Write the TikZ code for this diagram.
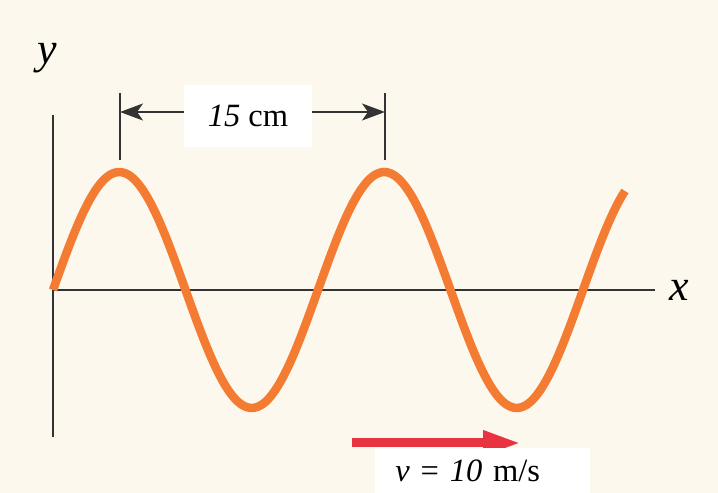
\documentclass[tikz,border=0pt]{standalone}
\usepackage{fontspec}
\setmainfont{Liberation Serif}
\usetikzlibrary{arrows.meta, positioning}
\definecolor{paper}{RGB}{252,248,237}
\definecolor{wave}{RGB}{244,123,50}
\definecolor{ink}{RGB}{51,51,51}
\definecolor{speed}{RGB}{232,52,64}

\begin{document}
\begin{tikzpicture}[
    x=0.02cm, y=-0.02cm,
    axis/.style={draw=ink, line width=1.1pt},
    dimline/.style={{Stealth[length=0.46cm, width=0.34cm, inset=0.12cm]}-{Stealth[length=0.46cm, width=0.34cm, inset=0.12cm]}, draw=ink, line width=1.1pt},
    axlabel/.style={font=\fontsize{25}{25}\selectfont\itshape, inner sep=0pt},
    tag/.style={fill=white, inner sep=0pt, font=\fontsize{18.5}{20}\selectfont},
    speedarrow/.style={-{Triangle[length=0.76cm, width=0.46cm]}, draw=speed, line width=0.18cm},
]

\fill[paper] (0,0) rectangle (718,493);
\useasboundingbox (0,0) rectangle (718,493);

\coordinate (o) at (53,290);
\coordinate (ytop) at (53,115);
\coordinate (ybot) at (53,437);
\coordinate (xend) at (655,290);

\draw[axis] (ybot) -- (ytop);
\draw[axis] (o) -- (xend);
\node[axlabel] (ylab) at (47,58) {y};
\node[axlabel, right=8pt of xend] (xlab) {x};

\draw[wave, line width=0.17cm] plot[domain=0:572, samples=160, smooth] ({53+\x}, {290-118*sin(\x/265*360)});

\coordinate (p1top) at (120,93);
\coordinate (p1bot) at (120,160);
\coordinate (p2top) at (385,93);
\coordinate (p2bot) at (385,160);
\coordinate (d1) at (120,112);
\coordinate (d2) at (385,112);

\draw[axis] (p1top) -- (p1bot);
\draw[axis] (p2top) -- (p2bot);
\draw[dimline] (d1) -- (d2);
\node[tag, minimum width=2.58cm, minimum height=1.26cm] (lambda) at (248,116) {\textit{15} cm};

\coordinate (v1) at (352,443);
\coordinate (v2) at (521,443);
\draw[speedarrow] (v1) -- (v2);
\node[tag, anchor=north west, minimum width=4.3cm, minimum height=0.9cm, text width=3.5cm, inner xsep=0.4cm, align=left] (vtag) at (375,448) {\textit{v} = \textit{10} m/s};

\end{tikzpicture}
\end{document}
